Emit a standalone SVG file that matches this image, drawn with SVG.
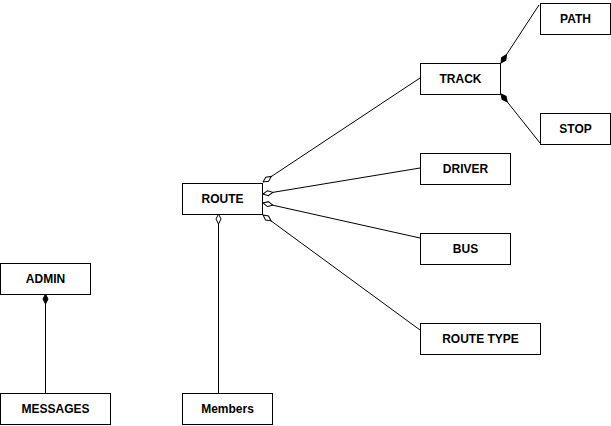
<svg xmlns="http://www.w3.org/2000/svg" width="611" height="426" viewBox="0 0 611 426">
<defs>
<style>
.box{fill:#fff;stroke:#000;stroke-width:1}
.lbl{font-family:"Liberation Sans",Arial,sans-serif;font-weight:bold;font-size:12px;fill:#000;text-anchor:middle;dominant-baseline:central}
.ln{stroke:#000;stroke-width:1;fill:none}
.open{marker-start:url(#od)}
.filled{marker-start:url(#fd)}
</style>
<marker id="od" markerUnits="userSpaceOnUse" markerWidth="12" markerHeight="8" refX="0.5" refY="4" orient="auto" viewBox="0 0 12 8">
<path d="M0.5,4 L5.5,1.5 L10.5,4 L5.5,6.5 Z" fill="#fff" stroke="#000" stroke-width="1"/>
</marker>
<marker id="fd" markerUnits="userSpaceOnUse" markerWidth="12" markerHeight="8" refX="0.5" refY="4" orient="auto" viewBox="0 0 12 8">
<path d="M0.5,4 L5.5,1.5 L10.5,4 L5.5,6.5 Z" fill="#000" stroke="#000" stroke-width="1"/>
</marker>
</defs>
<rect width="611" height="426" fill="#fff"/>
<g id="connectors">
<line class="ln filled" x1="45.5" y1="294" x2="45.5" y2="393"/>
<line class="ln open" x1="218.5" y1="214" x2="218.5" y2="393"/>
<line class="ln open" x1="263" y1="182" x2="420" y2="78"/>
<line class="ln open" x1="263" y1="194" x2="420" y2="168"/>
<line class="ln open" x1="263" y1="203" x2="420" y2="238"/>
<line class="ln open" x1="263" y1="215" x2="420" y2="330"/>
<line class="ln filled" x1="501" y1="63" x2="539" y2="5"/>
<line class="ln filled" x1="501" y1="94" x2="540" y2="143"/>
</g>
<g id="PATH"><rect class="box" x="540.5" y="3.5" width="70" height="31"/><text class="lbl" x="575.5" y="19">PATH</text></g>
<g id="TRACK"><rect class="box" x="420.5" y="63.5" width="80" height="31"/><text class="lbl" x="460.5" y="79">TRACK</text></g>
<g id="STOP"><rect class="box" x="540.5" y="113.5" width="70" height="31"/><text class="lbl" x="575.5" y="129">STOP</text></g>
<g id="DRIVER"><rect class="box" x="420.5" y="153.5" width="90" height="31"/><text class="lbl" x="465.5" y="169">DRIVER</text></g>
<g id="ROUTE"><rect class="box" x="182.5" y="183.5" width="80" height="31"/><text class="lbl" x="222.5" y="199">ROUTE</text></g>
<g id="BUS"><rect class="box" x="420.5" y="233.5" width="90" height="31"/><text class="lbl" x="465.5" y="249">BUS</text></g>
<g id="ROUTE_TYPE"><rect class="box" x="420.5" y="323.5" width="120" height="31"/><text class="lbl" x="480.5" y="339">ROUTE TYPE</text></g>
<g id="ADMIN"><rect class="box" x="0.5" y="263.5" width="90" height="31"/><text class="lbl" x="45.5" y="279">ADMIN</text></g>
<g id="MESSAGES"><rect class="box" x="0.5" y="393.5" width="110" height="31"/><text class="lbl" x="55.5" y="409">MESSAGES</text></g>
<g id="Members"><rect class="box" x="182.5" y="393.5" width="90" height="31"/><text class="lbl" x="227.5" y="409">Members</text></g>
</svg>
